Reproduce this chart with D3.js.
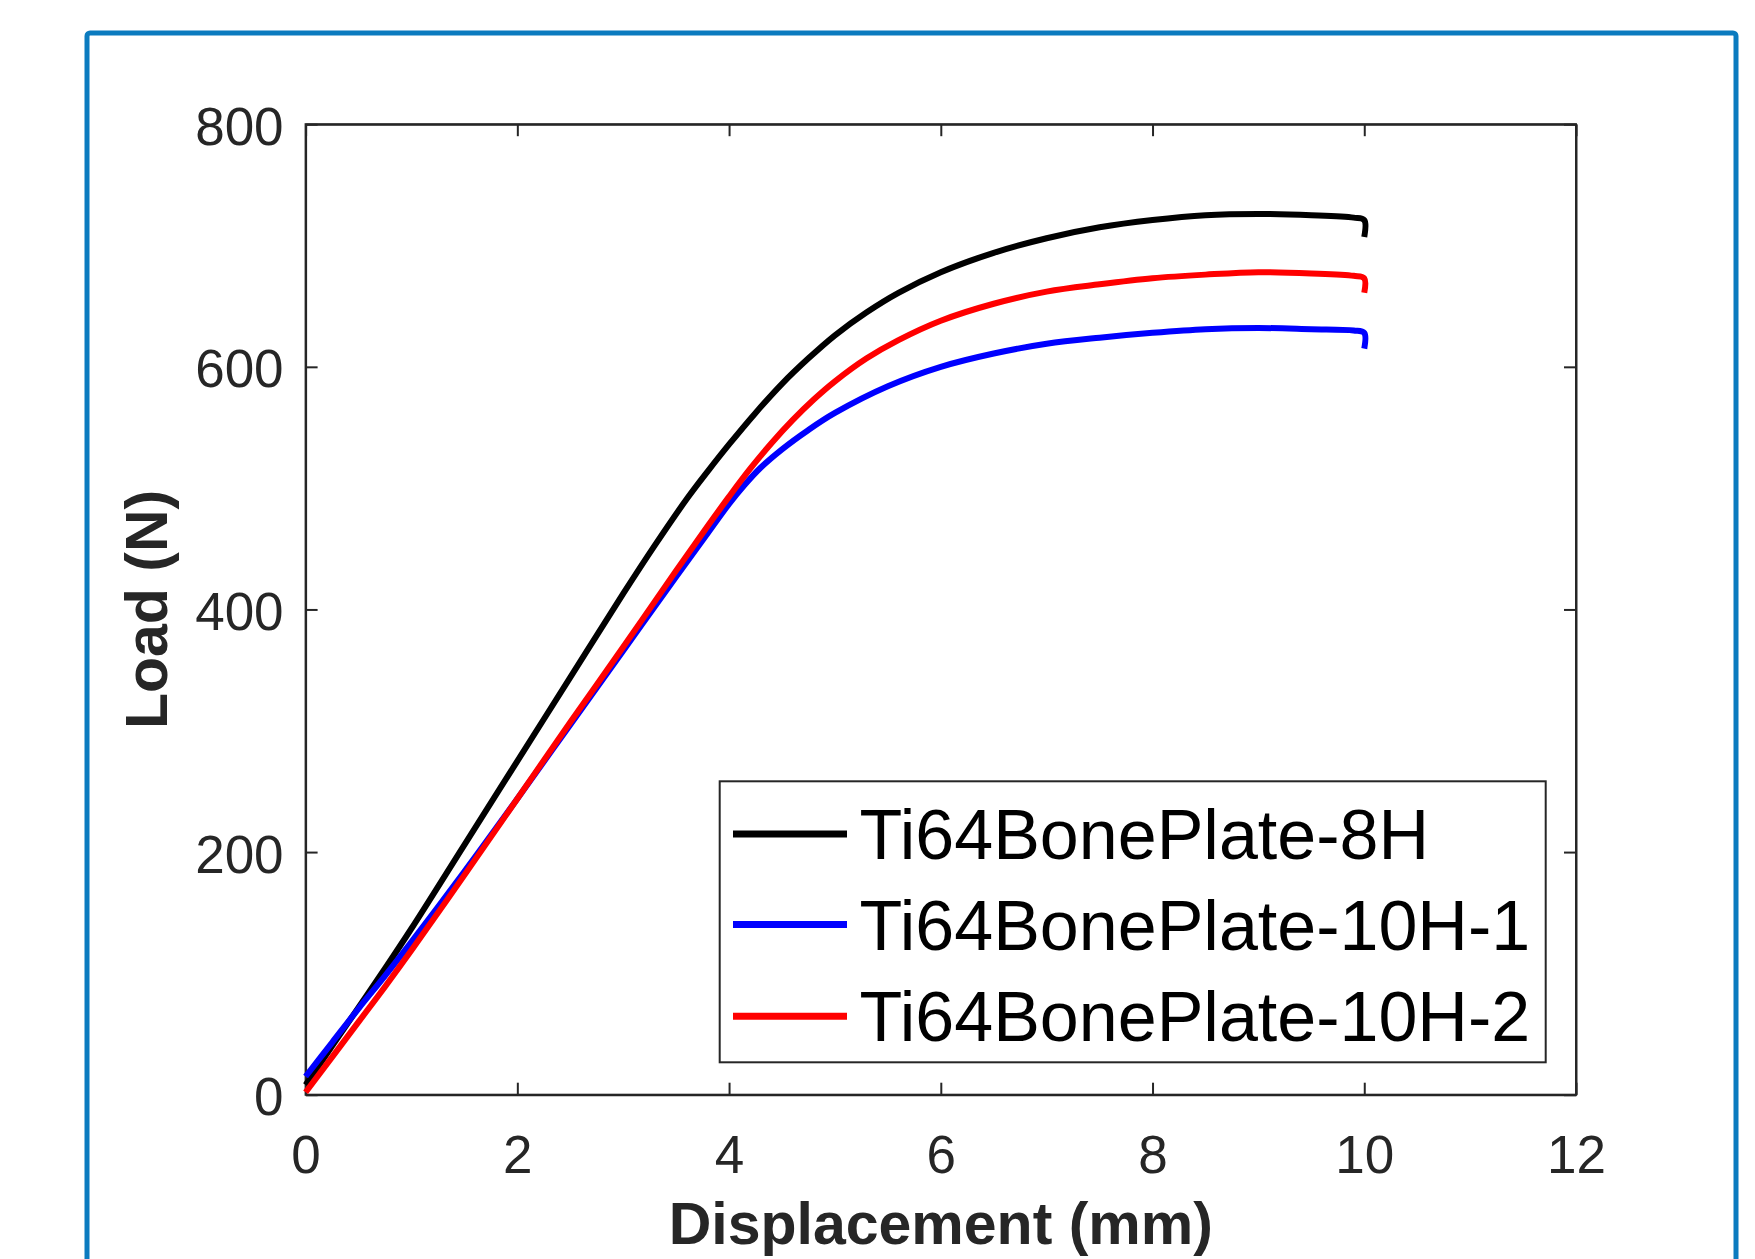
<!DOCTYPE html>
<html>
<head>
<meta charset="utf-8">
<script src="https://cdn.jsdelivr.net/npm/d3@7/dist/d3.min.js"></script>
<style>
  html, body { margin: 0; padding: 0; background: #fff; overflow: hidden; }
  svg { display: block; }
</style>
</head>
<body>
<svg width="1755" height="1259"></svg>
<script>
"use strict";

// series: displacement (mm) / load (N)
const dispBlack = [0, 0.25, 0.5, 0.75, 1.0, 1.5, 2.0, 2.5, 3.0, 3.3, 3.6, 3.8, 4.0, 4.25, 4.5, 4.75, 5.0, 5.3, 5.6, 6.0, 6.5, 7.0, 7.5, 8.0, 8.5, 9.0, 9.5, 9.9, 10.0, 10.0];
const loadBlack = [8, 40, 72, 104, 137, 206, 275, 344, 413, 453, 491, 514, 536, 562, 586, 607, 626, 645, 661, 678, 694, 706, 715, 721, 725, 726, 725, 723, 721, 707];

const dispBlue = [0, 0.25, 0.5, 0.75, 1.0, 1.5, 2.0, 2.5, 3.0, 3.5, 3.8, 4.0, 4.15, 4.3, 4.5, 4.75, 5.0, 5.5, 6.0, 6.5, 7.0, 7.5, 8.0, 8.5, 9.0, 9.5, 9.9, 10.0, 10.0];
const loadBlue = [15, 43, 71, 98, 126, 184, 244, 305, 366, 427, 463, 487, 503, 517, 532, 548, 562, 584, 600, 611, 619, 624, 628, 631, 632, 631, 630, 628, 615];

const dispRed = [0, 0.25, 0.5, 0.75, 1.0, 1.5, 2.0, 2.5, 3.0, 3.5, 3.8, 4.0, 4.2, 4.4, 4.6, 4.8, 5.0, 5.3, 5.6, 6.0, 6.5, 7.0, 7.5, 8.0, 8.5, 9.0, 9.5, 9.9, 10.0, 10.0];
const loadRed = [2, 31, 60, 89, 119, 181, 244, 307, 369, 432, 469, 493, 516, 537, 556, 573, 588, 607, 622, 638, 652, 662, 668, 673, 676, 678, 677, 675, 673, 661];

const seriesNames = ["Ti64BonePlate-8H", "Ti64BonePlate-10H-1", "Ti64BonePlate-10H-2"];
const seriesColors = ["#000000", "#0000ff", "#ff0000"];

const xTicks = [0, 2, 4, 6, 8, 10, 12];
const yTicks = [0, 200, 400, 600, 800];

const xLabel = "Displacement (mm)";
const yLabel = "Load (N)";

// layout
const width = 1755, height = 1259,
      plot = { left: 305.6, right: 1576, top: 124.2, bottom: 1094.7 },
      tickLen = 12,
      axisColor = "#262626",
      frameColor = "#0b7bbf";

const svg = d3.select("body svg");

// outer frame (bottom edge falls outside the picture)
svg.append("rect")
.attr("x", 87)
.attr("y", 33)
.attr("width", 1736 - 87)
.attr("height", 1400)
.attr("rx", 3)
.attr("fill", "none")
.attr("stroke", frameColor)
.attr("stroke-width", 5);

let scaleX = d3.scaleLinear().domain([0, 12]).range([plot.left, plot.right]);
let scaleY = d3.scaleLinear().domain([0, 800]).range([plot.bottom, plot.top]);

// axes (ticks inward, mirrored on top and right)
const tickFont = "'Liberation Sans', Arial, Helvetica, sans-serif";

let xAxis = svg.append("g")
.attr("class", "x_axis")
.attr("transform", `translate(0, ${plot.bottom})`)
.call(d3.axisBottom(scaleX).tickValues(xTicks).tickSize(-tickLen).tickPadding(0).tickSizeOuter(0));

xAxis.selectAll("text")
.attr("y", 78)
.attr("dy", null)
.attr("font-size", 53)
.attr("font-family", tickFont)
.attr("fill", axisColor);

let yAxis = svg.append("g")
.attr("class", "y_axis")
.attr("transform", `translate(${plot.left}, 0)`)
.call(d3.axisLeft(scaleY).tickValues(yTicks).tickSize(-tickLen).tickPadding(0).tickSizeOuter(0));

yAxis.selectAll("text")
.attr("x", -22)
.attr("dy", "0.38em")
.attr("font-size", 53)
.attr("font-family", tickFont)
.attr("fill", axisColor);

svg.append("g")
.attr("transform", `translate(0, ${plot.top})`)
.call(d3.axisTop(scaleX).tickValues(xTicks).tickSize(-tickLen).tickFormat("").tickSizeOuter(0));

svg.append("g")
.attr("transform", `translate(${plot.right}, 0)`)
.call(d3.axisRight(scaleY).tickValues(yTicks).tickSize(-tickLen).tickFormat("").tickSizeOuter(0));

svg.selectAll(".domain, .tick line")
.attr("stroke", axisColor)
.attr("stroke-width", 2);

// box
svg.append("rect")
.attr("x", plot.left)
.attr("y", plot.top)
.attr("width", plot.right - plot.left)
.attr("height", plot.bottom - plot.top)
.attr("fill", "none")
.attr("stroke", axisColor)
.attr("stroke-width", 2);

// axis labels
svg.append("text")
.text(xLabel)
.attr("x", (plot.left + plot.right) / 2)
.attr("y", 1244)
.attr("text-anchor", "middle")
.attr("font-family", tickFont)
.attr("font-weight", "bold")
.attr("font-size", 59)
.attr("fill", axisColor);

svg.append("text")
.text(yLabel)
.attr("transform", `translate(167, ${(plot.top + plot.bottom) / 2}) rotate(-90)`)
.attr("text-anchor", "middle")
.attr("font-family", tickFont)
.attr("font-weight", "bold")
.attr("font-size", 59)
.attr("fill", axisColor);

// curves
const series = [
  dispBlack.map((d, i) => [d, loadBlack[i]]),
  dispBlue.map((d, i) => [d, loadBlue[i]]),
  dispRed.map((d, i) => [d, loadRed[i]])
];

let line = d3.line()
.x(d => scaleX(d[0]))
.y(d => scaleY(d[1]))
.curve(d3.curveCatmullRom.alpha(0.5));

svg.append("g")
.attr("class", "curves")
.selectAll("path")
.data(series)
.enter()
.append("path")
.attr("d", line)
.attr("fill", "none")
.attr("stroke", (_, i) => seriesColors[i])
.attr("stroke-width", 6)
.attr("stroke-linejoin", "round");

// legend
const legendBox = { x: 719.7, y: 781.3, w: 826, h: 281 },
      legendRows = [834, 924.6, 1016.3];

let legend = svg.append("g").attr("class", "legend");

legend.append("rect")
.attr("x", legendBox.x)
.attr("y", legendBox.y)
.attr("width", legendBox.w)
.attr("height", legendBox.h)
.attr("fill", "#fff")
.attr("stroke", axisColor)
.attr("stroke-width", 2);

legend.selectAll("g")
.data(seriesNames)
.enter()
.append("g")
.each(function(d, i) {
    let g = d3.select(this);
    g.append("line")
    .attr("x1", 733)
    .attr("x2", 847)
    .attr("y1", legendRows[i])
    .attr("y2", legendRows[i])
    .attr("stroke", seriesColors[i])
    .attr("stroke-width", 7);
    g.append("text")
    .text(d)
    .attr("x", 859.6)
    .attr("y", legendRows[i] + 25)
    .attr("font-family", tickFont)
    .attr("font-size", 70)
    .attr("fill", "#000");
});
</script>
</body>
</html>
